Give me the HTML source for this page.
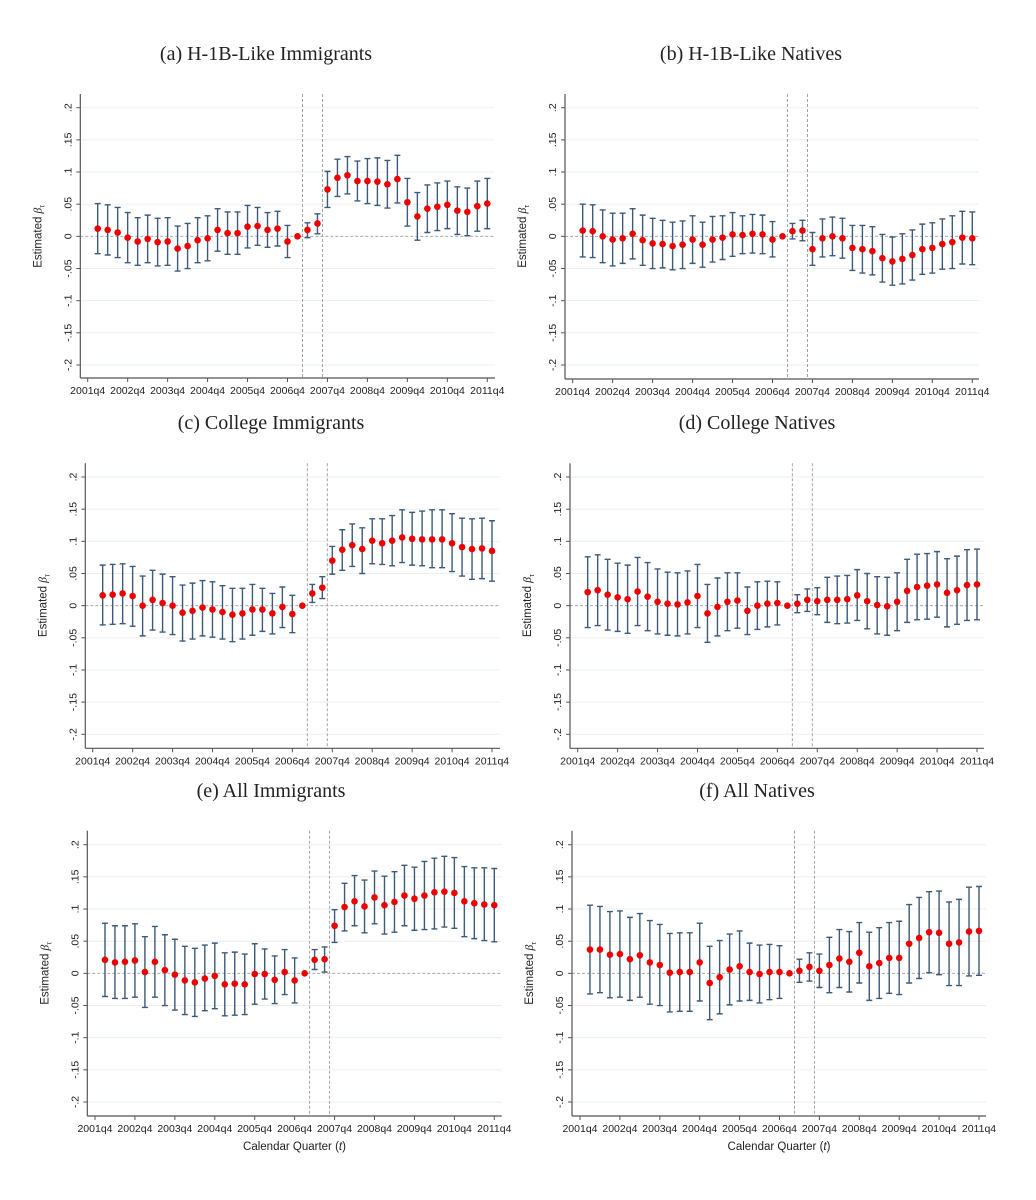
<!DOCTYPE html>
<html><head><meta charset="utf-8">
<style>
body{margin:0;background:#fff;}
svg{display:block;}
.ttl{font-family:"Liberation Serif",serif;font-size:20px;fill:#222;}
.tk{font-family:"Liberation Sans",sans-serif;font-size:10.5px;fill:#222;}
.yt{font-family:"Liberation Sans",sans-serif;font-size:11.5px;fill:#222;}
</style></head>
<body>
<svg id="fig" width="1036" height="1200" viewBox="0 0 1036 1200" xmlns="http://www.w3.org/2000/svg">
<rect width="1036" height="1200" fill="#fff"/>
<text class="ttl" x="266" y="60" text-anchor="middle">(a) H-1B-Like Immigrants</text>
<text class="ttl" x="751" y="60" text-anchor="middle">(b) H-1B-Like Natives</text>
<text class="ttl" x="271" y="429" text-anchor="middle">(c) College Immigrants</text>
<text class="ttl" x="757" y="429" text-anchor="middle">(d) College Natives</text>
<text class="ttl" x="271" y="797" text-anchor="middle">(e) All Immigrants</text>
<text class="ttl" x="757" y="797" text-anchor="middle">(f) All Natives</text>
</svg>
<script>
const xTickLabels=["2001q4","2002q4","2003q4","2004q4","2005q4","2006q4","2007q4","2008q4","2009q4","2010q4","2011q4"];
const yTickValues=[-0.2,-0.15,-0.1,-0.05,0,0.05,0.1,0.15,0.2];
const yTickLabels=["-.2","-.15","-.1","-.05","0",".05",".1",".15",".2"];
const vLineQuarters=[21.5,23.5];

const estA=[.012,.010,.006,-.002,-.008,-.004,-.009,-.008,-.019,-.015,-.006,-.003,.010,.005,.005,.015,.016,.010,.012,-.008,0,.010,.020,.073,.091,.095,.086,.086,.085,.081,.089,.053,.031,.043,.046,.049,.040,.038,.047,.051];
const loA=[-.027,-.029,-.033,-.041,-.045,-.041,-.046,-.045,-.054,-.050,-.041,-.038,-.023,-.028,-.028,-.018,-.014,-.017,-.015,-.033,0,-.002,.004,.045,.062,.066,.055,.051,.048,.044,.052,.016,-.006,.006,.009,.012,.003,.001,.008,.012];
const hiA=[.051,.049,.045,.037,.029,.033,.028,.029,.016,.020,.029,.032,.043,.038,.038,.048,.045,.037,.039,.017,0,.021,.035,.101,.120,.124,.117,.121,.122,.118,.126,.090,.068,.080,.083,.086,.077,.075,.086,.090];

const estB=[.009,.008,0,-.005,-.003,.004,-.006,-.011,-.012,-.015,-.013,-.005,-.013,-.005,-.002,.003,.002,.004,.003,-.005,0,.008,.009,-.020,-.003,0,-.003,-.018,-.020,-.023,-.034,-.039,-.035,-.029,-.020,-.018,-.012,-.009,-.002,-.003];
const loB=[-.032,-.033,-.041,-.046,-.042,-.035,-.045,-.050,-.049,-.052,-.050,-.042,-.048,-.040,-.036,-.031,-.027,-.026,-.027,-.032,0,-.004,-.007,-.045,-.032,-.030,-.034,-.053,-.057,-.060,-.071,-.076,-.074,-.068,-.059,-.057,-.051,-.050,-.043,-.044];
const hiB=[.050,.049,.041,.036,.036,.043,.033,.028,.025,.022,.024,.032,.022,.031,.032,.037,.032,.034,.033,.023,0,.020,.025,.006,.027,.030,.028,.017,.017,.015,.003,-.001,.004,.010,.019,.021,.027,.032,.039,.038];

const estC=[.016,.017,.019,.015,0,.009,.004,0,-.011,-.008,-.003,-.006,-.010,-.014,-.012,-.006,-.006,-.012,-.002,-.013,0,.019,.028,.070,.087,.094,.088,.101,.097,.101,.106,.104,.103,.103,.103,.097,.091,.088,.089,.085];
const loC=[-.030,-.029,-.028,-.032,-.047,-.038,-.041,-.045,-.055,-.052,-.047,-.049,-.052,-.056,-.052,-.046,-.040,-.044,-.034,-.042,0,.005,.011,.049,.055,.061,.050,.065,.064,.062,.067,.063,.062,.059,.059,.053,.046,.041,.042,.038];
const hiC=[.063,.064,.065,.061,.046,.055,.049,.045,.032,.035,.039,.037,.031,.027,.027,.033,.027,.019,.029,.016,0,.033,.045,.092,.118,.127,.121,.135,.135,.140,.149,.145,.147,.149,.149,.143,.136,.135,.136,.132];

const estD=[.021,.024,.017,.013,.010,.022,.014,.006,.003,.002,.005,.015,-.012,-.002,.006,.008,-.008,0,.003,.004,0,.003,.009,.007,.009,.009,.010,.016,.007,.001,-.001,.006,.023,.029,.031,.033,.020,.024,.032,.033];
const loD=[-.034,-.031,-.038,-.040,-.043,-.031,-.039,-.044,-.046,-.047,-.044,-.034,-.057,-.047,-.039,-.035,-.045,-.037,-.033,-.030,0,-.011,-.009,-.014,-.026,-.028,-.027,-.023,-.036,-.044,-.046,-.039,-.026,-.022,-.021,-.018,-.033,-.029,-.023,-.022];
const hiD=[.076,.079,.072,.066,.063,.075,.067,.057,.052,.051,.054,.064,.033,.043,.051,.051,.029,.037,.038,.037,0,.017,.026,.028,.044,.046,.047,.056,.050,.045,.044,.051,.072,.080,.081,.084,.073,.077,.087,.088];

const estE=[.021,.017,.018,.020,.002,.018,.005,-.002,-.011,-.014,-.008,-.004,-.017,-.016,-.017,-.001,-.001,-.010,.002,-.011,0,.021,.022,.074,.103,.112,.104,.118,.106,.111,.121,.116,.121,.126,.127,.125,.112,.109,.107,.106];
const loE=[-.036,-.039,-.039,-.037,-.053,-.037,-.050,-.057,-.064,-.067,-.058,-.055,-.066,-.065,-.064,-.048,-.040,-.047,-.033,-.046,0,.006,.002,.048,.066,.074,.063,.077,.061,.064,.074,.067,.068,.069,.072,.070,.057,.054,.051,.049];
const hiE=[.078,.074,.074,.077,.057,.073,.060,.053,.042,.039,.044,.047,.032,.033,.030,.046,.038,.027,.037,.024,0,.037,.041,.099,.140,.152,.145,.159,.151,.158,.168,.165,.174,.179,.182,.180,.166,.164,.164,.163];

const estF=[.037,.037,.029,.030,.022,.028,.017,.013,.001,.002,.002,.017,-.015,-.006,.006,.011,.002,-.001,.002,.002,0,.004,.010,.004,.013,.023,.018,.032,.011,.016,.024,.024,.046,.055,.064,.063,.046,.048,.065,.066];
const loF=[-.032,-.030,-.038,-.037,-.042,-.037,-.048,-.050,-.060,-.059,-.059,-.043,-.072,-.063,-.049,-.043,-.042,-.046,-.041,-.039,0,-.014,-.012,-.022,-.030,-.022,-.029,-.015,-.042,-.039,-.031,-.033,-.015,-.008,.001,-.002,-.019,-.019,-.004,-.003];
const hiF=[.106,.104,.096,.097,.087,.093,.082,.076,.062,.063,.063,.078,.042,.051,.061,.066,.047,.044,.045,.043,0,.022,.032,.030,.056,.068,.065,.079,.064,.071,.079,.081,.107,.118,.127,.128,.111,.115,.134,.135];

const NS="http://www.w3.org/2000/svg";
const svg=document.getElementById('fig');
function mk(tag,attrs,parent){const e=document.createElementNS(NS,tag);for(const k in attrs)e.setAttribute(k,attrs[k]);(parent||svg).appendChild(e);return e;}

const panels=[
 {id:'a',est:estA,lo:loA,hi:hiA,ax:80.3,x0:87.7,x1:487.3,yTop:107.7,yBot:365,base:378,top:94,right:495,xt:false},
 {id:'b',est:estB,lo:loB,hi:hiB,ax:565,x0:572.7,x1:972.3,yTop:107.7,yBot:365,base:379,top:94,right:979,xt:false},
 {id:'c',est:estC,lo:loC,hi:hiC,ax:85.3,x0:92.7,x1:492,yTop:477,yBot:734.3,base:748.3,top:463.3,right:500,xt:false},
 {id:'d',est:estD,lo:loD,hi:hiD,ax:570,x0:577.7,x1:977,yTop:477,yBot:734.3,base:748.3,top:463.3,right:984,xt:false},
 {id:'e',est:estE,lo:loE,hi:hiE,ax:87.3,x0:95,x1:494.3,yTop:844.7,yBot:1102,base:1116,top:830.7,right:501.7,xt:true},
 {id:'f',est:estF,lo:loF,hi:hiF,ax:572,x0:580,x1:979,yTop:844.7,yBot:1102,base:1116,top:830.7,right:986,xt:true}
];

panels.forEach(p=>{
 const g=mk('g',{});
 
 
 const X=q=>p.x0+q*(p.x1-p.x0)/40;
 const Y=v=>p.yBot+(v+0.2)*(p.yTop-p.yBot)/0.4;
 yTickValues.forEach((v,i)=>{
  if(v!==0){const gl=mk('line',{x1:p.ax,x2:p.right,y1:Y(v),y2:Y(v),stroke:'#eaeff2','stroke-width':1},g);
   
   }
  mk('line',{x1:p.ax-4,x2:p.ax,y1:Y(v),y2:Y(v),stroke:'#555','stroke-width':1},g);
  const t=mk('text',{class:'tk',x:p.ax-9,y:Y(v),'text-anchor':'middle',transform:`rotate(-90 ${p.ax-9} ${Y(v)})`},g);
  t.textContent=yTickLabels[i];
  
  
 });
 mk('line',{x1:p.ax,x2:p.right,y1:Y(0),y2:Y(0),stroke:'#999','stroke-width':0.9,'stroke-dasharray':'3,2'},g);
 vLineQuarters.forEach(q=>{
  const vl=mk('line',{x1:X(q),x2:X(q),y1:p.top,y2:p.base,stroke:'#999','stroke-width':0.9,'stroke-dasharray':'3,2'},g);
  
  
 });
 mk('line',{x1:p.ax,x2:p.ax,y1:p.top,y2:p.base,stroke:'#555','stroke-width':1.2},g);
 mk('line',{x1:p.ax,x2:p.right,y1:p.base,y2:p.base,stroke:'#555','stroke-width':1.2},g);
 xTickLabels.forEach((l,i)=>{
  const q=i*4;
  mk('line',{x1:X(q),x2:X(q),y1:p.base,y2:p.base+4,stroke:'#555','stroke-width':1},g);
  const t=mk('text',{class:'tk',x:X(q),y:p.base+16,'text-anchor':'middle'},g);
  t.textContent=l;
  
  
 });
 const yx=p.ax-39, ymid=Y(0);
 const yt=mk('text',{class:'yt',x:yx,y:ymid,'text-anchor':'middle',transform:`rotate(-90 ${yx} ${ymid})`},g);
 yt.innerHTML='Estimated <tspan font-style="italic" font-family="Liberation Serif">β</tspan><tspan font-size="7" dy="3">τ</tspan>';
 
 
 if(p.xt){
  const xt=mk('text',{class:'yt',x:(p.ax+p.right)/2,y:p.base+34,'text-anchor':'middle','font-size':'12.5'},g);
  xt.innerHTML='Calendar Quarter (<tspan font-style="italic">t</tspan>)';
  
  
 }
 p.est.forEach((v,i)=>{
  const q=i+1, x=X(q);
  if(p.hi[i]!==p.lo[i]){
   const eb=mk('path',{d:`M${x} ${Y(p.lo[i])}V${Y(p.hi[i])}M${x-3} ${Y(p.lo[i])}H${x+3}M${x-3} ${Y(p.hi[i])}H${x+3}`,stroke:'#3d5a78','stroke-width':1.4,fill:'none'},g);
   
   
  }
  const c=mk('circle',{cx:x,cy:Y(v),r:3.3,fill:'#ee0000'},g);
  
  
 });
});
</script>
</body></html>
